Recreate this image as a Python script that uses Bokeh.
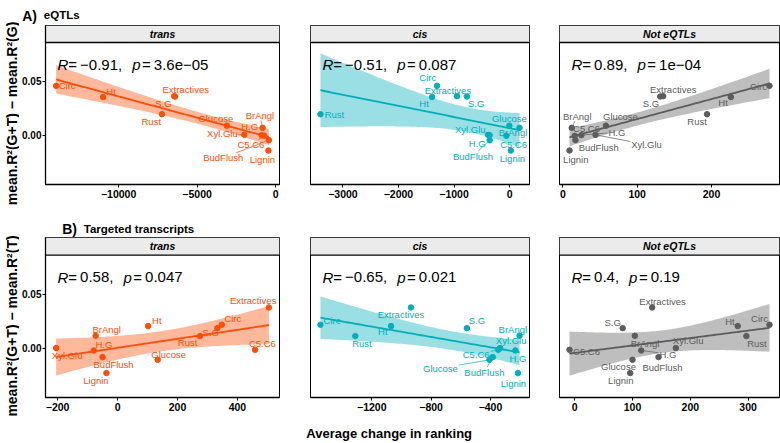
import numpy as np
from bokeh.plotting import figure
from bokeh.layouts import row, column
from bokeh.models import Range1d, FixedTicker, Label, Span
from bokeh.embed import file_html
from bokeh.resources import INLINE
from bokeh.core.properties import value

FONT = "Liberation Sans"

# ---------------- data ----------------
traits = ["Circ", "Ht", "Extractives", "S.G", "Rust", "Glucose",
          "BrAngl", "Xyl.Glu", "H.G", "C5.C6", "BudFlush", "Lignin"]

# A) eQTLs : y = mean.R2(G+T) - mean.R2(G)
eqtl_delta = [0.0460, 0.0356, 0.0364, 0.0361, 0.0197, 0.0091,
              0.0071, 0.0006, 0.0003, -0.0003, -0.0043, -0.0139]
eqtl_trans_rank = [-13980, -10990, -6460, -6400, -7240, -3110,
                   -830, -1990, -890, -720, -430, -460]
eqtl_cis_rank = [-1306, -1395, -948, -769, -3404, -5,
                 179, -388, -360, -59, -358, 23]
eqtl_not_rank = [278, 226, 135, 131, 194, 58,
                 12, 44, 25, 16, 17, 9]

# B) Targeted transcripts : y = mean.R2(G+T) - mean.R2(T)
tt_delta = [0.0218, 0.0206, 0.0377, 0.0187, 0.0114, -0.0104,
            0.0117, 0.0004, -0.0018, -0.0012, -0.0079, -0.0226]
tt_trans_rank = [348, 102, 505, 333, 275, 134,
                 -73, -205, -79, 459, -50, -37]
tt_cis_rank = [-1546, -1070, -936, -559, -1311, -407,
               -204, -335, -232, -348, -385, -215]
tt_not_rank = [337, 282, 134, 83, 297, 100,
               104, 175, 115, -9, 145, 96]

strip_labels = ["trans", "cis", "Not eQTLs"]
cor_eqtl = [("−0.91", "3.6e−05"), ("−0.51", "0.087"), ("0.89", "1e−04")]
cor_tt = [("0.58", "0.047"), ("−0.65", "0.021"), ("0.4", "0.19")]
xticks_eqtl = [[-10000, -5000, 0], [-3000, -2000, -1000, 0], [0, 100, 200]]
xticks_tt = [[-200, 0, 200, 400], [-1200, -800, -400], [0, 100, 200, 300]]
yticks = [0.0, 0.05]
ylabel_eqtl = "mean.R²(G+T) − mean.R²(G)"
ylabel_tt = "mean.R²(G+T) − mean.R²(T)"
xlabel = "Average change in ranking"

# ---------------- styling / layout ----------------
COLORS = ["#FC4E07", "#00AFBB", "#5C5C5C"]
STRIP_FILL = "#EBEBEB"

# label offsets (px, dy positive = down); third item -> leader line
OFF_A = [
    {"Circ": (11, 0), "Ht": (8, -6), "Extractives": (11.5, -6.4), "S.G": (-11.6, 7.3),
     "Rust": (-10.7, 7), "Glucose": (-11, -6.7), "Xyl.Glu": (-22, -1, 1),
     "BrAngl": (-2.7, -12.3, 1), "H.G": (-12, -8.7), "C5.C6": (-13.4, 8.7, 1),
     "BudFlush": (-45.6, 17.7, 1), "Lignin": (-6, 9)},
    {"Rust": (14, 0.5), "Circ": (-9.3, -8.7), "Extractives": (-9, -5.7), "Ht": (-8, 6),
     "S.G": (9.3, 7.3), "Glucose": (0, -7), "BrAngl": (-6.5, 4.4), "C5.C6": (7.3, 8.7),
     "Xyl.Glu": (-17.8, -5.3), "H.G": (-12.3, 8), "BudFlush": (-16.7, 16, 1), "Lignin": (1.5, 8)},
    {"Circ": (-11, 0.7), "Ht": (-7.8, 5.4), "Extractives": (10, -6.4), "S.G": (-9.3, 7.3),
     "Rust": (-10, 7), "Glucose": (14.5, -9), "BrAngl": (5.5, -11.6, 1), "C5.C6": (11.8, -7.4),
     "H.G": (35.5, -3, 1), "BudFlush": (23.3, 7.7), "Xyl.Glu": (51, 9.7, 1), "Lignin": (6.3, 9)},
]
OFF_B = [
    {"Xyl.Glu": (11, 7.7), "H.G": (10, -6.4), "BrAngl": (11, -6), "BudFlush": (11, 7.7),
     "Lignin": (-10.5, 7.7), "Ht": (8.7, -5.3), "Glucose": (11, -5.7), "Rust": (-12.4, 6.4),
     "S.G": (-6.7, 4.4), "Circ": (11, -6.3), "C5.C6": (7.3, -6.7), "Extractives": (-15.7, -6.7)},
    {"Circ": (11.6, -4), "Rust": (6.6, 7), "Ht": (-8.2, 5.4), "Extractives": (-10, 7.3),
     "S.G": (10, -7.3), "BrAngl": (-6.7, -6.7), "Xyl.Glu": (11, -7.3), "H.G": (2.6, 7.7),
     "C5.C6": (-22, 4.6, 1), "BudFlush": (-8.3, 15, 1), "Glucose": (-49, 8.4, 1), "Lignin": (-4.5, 10.6)},
    {"C5.C6": (17, 1.3), "S.G": (-10, -6), "Extractives": (10.4, -6), "BrAngl": (10.2, 7.6),
     "H.G": (26.7, 3.6, 1), "BudFlush": (4, 10.7), "Glucose": (-14, 6.7), "Lignin": (-9.4, 7.7),
     "Xyl.Glu": (12.3, -7.3), "Ht": (-7.8, -4.6), "Rust": (10.6, 7.4), "Circ": (-10, -6.3)},
]

AW = {' ': 278, '(': 333, ')': 333, '+': 584, ',': 278, '-': 333, '.': 278, '=': 584,
      '−': 584, '²': 333, 'A': 667, 'B': 667, 'C': 722, 'E': 667, 'F': 611, 'G': 778,
      'H': 722, 'L': 556, 'R': 722, 'S': 667, 'T': 611, 'X': 667, 'a': 556, 'c': 500,
      'd': 556, 'e': 556, 'g': 556, 'h': 556, 'i': 222, 'l': 222, 'n': 556, 'o': 556,
      'p': 556, 'r': 333, 's': 500, 't': 278, 'u': 556, 'v': 500, 'x': 500, 'y': 500}


def tw(s, size):
    return sum(AW.get(ch, 556) for ch in s) * size / 1000.0


def fmt_tick(t):
    return ("−" + str(abs(t))) if t < 0 else str(t)


def fit_band(xs, ys):
    x = np.asarray(xs, float)
    y = np.asarray(ys, float)
    n = len(x)
    b, a = np.polyfit(x, y, 1)
    xg = np.linspace(x.min(), x.max(), 80)
    yh = a + b * xg
    res = y - (a + b * x)
    s = np.sqrt((res ** 2).sum() / (n - 2))
    sxx = ((x - x.mean()) ** 2).sum()
    se = s * np.sqrt(1.0 / n + (xg - x.mean()) ** 2 / sxx)
    t = 2.228
    return xg, yh, yh - t * se, yh + t * se


def make_panel(xs, ys, color, strip, cor, xticks, offs, yr, strip_px,
               frame_w, frame_h, bl, br, bb, show_y):
    x = np.asarray(xs, float)
    span = x.max() - x.min()
    xr = (x.min() - 0.05 * span, x.max() + 0.05 * span)
    p = figure(frame_width=frame_w, frame_height=frame_h,
               x_range=Range1d(*xr), y_range=Range1d(*yr),
               output_backend="svg", toolbar_location=None,
               min_border_left=bl, min_border_right=br, min_border_top=0,
               min_border_bottom=bb,
               y_axis_location="left" if show_y else None,
               background_fill_color="white", border_fill_color="white")
    p.xgrid.visible = False
    p.ygrid.visible = False
    p.outline_line_color = "black"
    p.outline_line_width = 1
    p.outline_line_alpha = 1.0
    sx = frame_w / (xr[1] - xr[0])
    sy = frame_h / (yr[1] - yr[0])
    strip_bottom = yr[1] - strip_px / sy

    # strip
    p.quad(left=[xr[0]], right=[xr[1]], bottom=[strip_bottom], top=[yr[1]],
           fill_color=STRIP_FILL, line_color=None)
    p.add_layout(Span(location=strip_bottom, dimension="width",
                      line_color="black", line_width=1.3))
    p.text(x=[(xr[0] + xr[1]) / 2], y=[(strip_bottom + yr[1]) / 2], text=[strip],
           text_font=value(FONT), text_font_size="10.5px", text_font_style="bold italic",
           text_align="center", text_baseline="middle", text_color="black")

    # regression band + line
    xg, yh, lo, hi = fit_band(xs, ys)
    p.varea(x=xg, y1=lo, y2=hi, fill_color=color, fill_alpha=0.4)
    p.line(xg, yh, line_color=color, line_width=1.8)

    # leader segments and labels
    lx, ly, sx0, sy0, sx1, sy1 = [], [], [], [], [], []
    for name, xv, yv in zip(traits, xs, ys):
        o = offs[name]
        dx, dy = o[0], o[1]
        lx.append(xv + dx / sx)
        ly.append(yv - dy / sy)
        if len(o) > 2:
            w = tw(name, 9.5) + 2
            h = 10.0
            fx = (w / 2) / abs(dx) if dx else np.inf
            fy = (h / 2) / abs(dy) if dy else np.inf
            f = min(fx, fy)
            if f < 1:
                L = np.hypot(dx, dy)
                ex, ey = dx * (1 - f), dy * (1 - f)
                bx, by = dx * 2.5 / L, dy * 2.5 / L
                sx0.append(xv + bx / sx)
                sy0.append(yv - by / sy)
                sx1.append(xv + ex / sx)
                sy1.append(yv - ey / sy)
    if sx0:
        p.segment(x0=sx0, y0=sy0, x1=sx1, y1=sy1, line_color=color, line_width=0.7)
    p.scatter(xs, ys, size=5.5, fill_color=color, line_color=color)
    p.text(x=lx, y=ly, text=traits, text_font=value(FONT), text_font_size="9.5px",
           text_align="center", text_baseline="middle", text_color=color)

    # correlation text: italic R / p, no leading spaces (SVG collapses them)
    tokens = [("R", True, 0.0), ("=", False, 3.0), (cor[0] + ",", False, 10.0),
              ("p", True, 1.5), ("=", False, 3.0), (cor[1], False, 0.0)]
    xc = 12.0
    ybase = frame_h - strip_px - 22.3
    for txt, ital, gap in tokens:
        p.add_layout(Label(x=xc, y=ybase, x_units="screen", y_units="screen", text=txt,
                           text_font=FONT, text_font_size="15px",
                           text_font_style="italic" if ital else "normal",
                           text_baseline="alphabetic", text_color="black"))
        xc += tw(txt, 15) + gap

    # axes
    xa = p.xaxis[0]
    xa.ticker = FixedTicker(ticks=xticks)
    xa.major_label_overrides = {t: fmt_tick(t) for t in xticks}
    xa.major_label_text_font = FONT
    xa.major_label_text_font_size = "10.5px"
    xa.major_label_text_font_style = "bold"
    xa.major_label_text_color = "black"
    xa.major_tick_out = 3
    xa.major_tick_in = 0
    xa.minor_tick_out = 0
    xa.minor_tick_in = 0
    xa.major_label_standoff = 2
    xa.axis_line_width = 1.3
    xa.axis_line_color = "black"
    xa.major_tick_line_color = "black"
    if show_y:
        ya = p.yaxis[0]
        ya.ticker = FixedTicker(ticks=yticks)
        ya.major_label_overrides = {0.0: "0.00", 0.05: "0.05"}
        ya.major_label_text_font = FONT
        ya.major_label_text_font_size = "10px"
        ya.major_label_text_font_style = "bold"
        ya.major_label_text_color = "black"
        ya.major_tick_out = 3
        ya.major_tick_in = 0
        ya.minor_tick_out = 0
        ya.minor_tick_in = 0
        ya.major_label_standoff = 1
        ya.axis_line_width = 1.3
        ya.axis_line_color = "black"
    return p


def pix_fig(w, h):
    p = figure(width=w, height=h, x_range=Range1d(0, w), y_range=Range1d(h, 0),
               output_backend="svg", toolbar_location=None, min_border=0,
               x_axis_location=None, y_axis_location=None,
               background_fill_color="white", border_fill_color="white")
    p.outline_line_color = None
    p.grid.visible = False
    return p


# page origin is (0,0) (Bokeh template has no body margin)
YLAB_W = 19
FRAME_W = [234, 219, 220]
BORDER_L = [24, 26, 25]
BORDER_R = [5, 5, 2]
COL_W = sum(FRAME_W) + sum(BORDER_L) + sum(BORDER_R)

YR_A = (-0.04537, 0.10185)
YR_B = (-0.04504, 0.10202)

rowA_figs = []
for i, xs in enumerate([eqtl_trans_rank, eqtl_cis_rank, eqtl_not_rank]):
    rowA_figs.append(make_panel(xs, eqtl_delta, COLORS[i], strip_labels[i], cor_eqtl[i],
                                xticks_eqtl[i], OFF_A[i], YR_A, 17, FRAME_W[i], 159,
                                BORDER_L[i], BORDER_R[i], 28, i == 0))
rowB_figs = []
for i, xs in enumerate([tt_trans_rank, tt_cis_rank, tt_not_rank]):
    rowB_figs.append(make_panel(xs, tt_delta, COLORS[i], strip_labels[i], cor_tt[i],
                                xticks_tt[i], OFF_B[i], YR_B, 17.6, FRAME_W[i], 160,
                                BORDER_L[i], BORDER_R[i], 23, i == 0))

headA = pix_fig(COL_W, 25)
headA.text(x=[2.7], y=[15], text=["A)"], text_font=value(FONT), text_font_size="14px",
           text_font_style="bold", text_baseline="alphabetic", text_color="black")
headA.text(x=[24.3], y=[14.5], text=["eQTLs"], text_font=value(FONT), text_font_size="11.5px",
           text_font_style="bold", text_baseline="alphabetic", text_color="black")

headB = pix_fig(COL_W, 25)
headB.text(x=[42.7], y=[16.5], text=["B)"], text_font=value(FONT), text_font_size="14px",
           text_font_style="bold", text_baseline="alphabetic", text_color="black")
headB.text(x=[64.3], y=[16.5], text=["Targeted transcripts"], text_font=value(FONT),
           text_font_size="11.5px", text_font_style="bold", text_baseline="alphabetic",
           text_color="black")

xlab = pix_fig(COL_W, 22)
xlab.text(x=[388.7 - YLAB_W], y=[12.5], text=[xlabel], text_font=value(FONT),
          text_font_size="13px", text_font_style="bold", text_align="center",
          text_baseline="middle", text_color="black")

ylab = pix_fig(YLAB_W, 442)
ylab.text(x=[11.2, 11.2], y=[113, 325.5], text=[ylabel_eqtl, ylabel_tt], text_font=value(FONT),
          text_font_size="14px", text_font_style="bold", text_align="center",
          text_baseline="middle", angle=np.pi / 2, text_color="black")

layout = row(ylab, column(headA, row(*rowA_figs), headB, row(*rowB_figs), xlab))

open("out.html", "w").write(file_html(layout, INLINE))
